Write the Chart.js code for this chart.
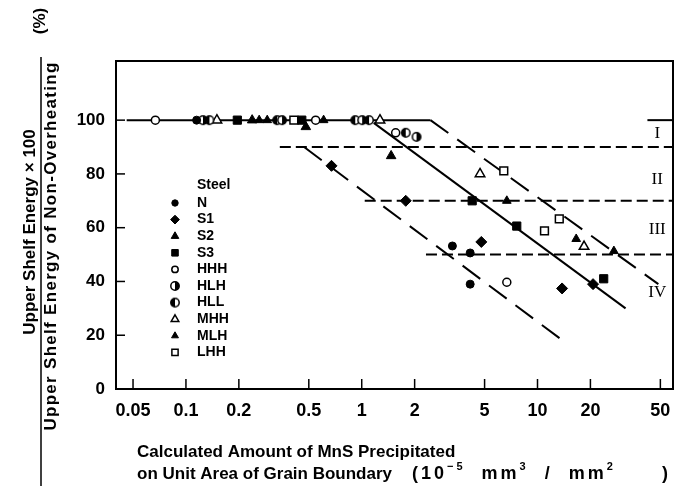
<!DOCTYPE html>
<html lang="en">
<head>
<meta charset="UTF-8">
<title>Upper Shelf Energy vs MnS Precipitated</title>
<style>
    body { margin: 0; background: #fff; }
    #wrap { width: 680px; height: 486px; }
</style>
</head>
<body>
<div id="wrap"><canvas id="chart" width="680" height="486"></canvas></div>

<script src="https://cdn.jsdelivr.net/npm/chart.js@4/dist/chart.umd.min.js"></script>
<script>
// axis ticks
const xTicks = [0.05, 0.1, 0.2, 0.5, 1, 2, 5, 10, 20, 50];
const yTicks = [0, 20, 40, 60, 80, 100];

const nX   = [0.115, 3.28, 4.14, 4.14];
const nY   = [100, 53.2, 50.6, 39];
const s1X  = [0.673, 1.78, 4.79, 13.8, 20.7];
const s1Y  = [83, 70, 54.7, 37.4, 39];
const s2X  = [0.238, 0.481, 1.47];
const s2Y  = [100, 97.5, 86.7];
const s3X  = [0.196, 0.456, 4.25, 7.62, 23.8];
const s3Y  = [100, 100, 70, 60.6, 41];
const hhhX = [0.067, 0.547, 1.56, 6.69];
const hhhY = [100, 100, 95.3, 39.7];
const hlhX = [0.125, 0.352, 1.006, 2.05];
const hlhY = [100, 100, 100, 93.8];
const hllX = [0.136, 0.330, 0.918, 1.10, 1.78];
const hllY = [100, 100, 100, 100, 95.3];
const mhhX = [0.150, 1.27, 4.71, 18.4];
const mhhY = [100, 100, 80, 53];
const mlhX = [0.261, 0.290, 0.607, 6.69, 16.6, 27.2];
const mlhY = [100, 100, 100, 70, 55.8, 51.3];
const lhhX = [0.411, 6.43, 10.96, 13.3];
const lhhY = [100, 81.1, 58.8, 63.3];

// guide lines
const topSolidX = [0.046, 2.46],  topSolidY = [100, 100];
const upperDashX = [2.46, 48.7],  upperDashY = [100, 39];
const midSolidX = [1.17, 31.7],   midSolidY = [99, 30];
const lowerDashX = [0.47, 14.8],  lowerDashY = [90, 16.7];
const level90X = [0.342, 59],     level90Y = [90, 90];
const level70X = [1.04, 59],      level70Y = [70, 70];
const level50X = [2.32, 59],      level50Y = [50, 50];
const rightTopX = [42.2, 59],     rightTopY = [100, 100];

// region labels
const regionLabels = ['I', 'II', 'III', 'IV'];
const regionY = [95, 78, 59.5, 36];
const regionX = 48;

const FONT = "'Liberation Sans', Arial, sans-serif";

function pts(xs, ys) {
    return xs.map((x, i) => ({ x: x, y: ys[i] }));
}

// half filled circle marker
function halfCircle(side) {
    const c = document.createElement('canvas');
    c.width = 12; c.height = 12;
    const g = c.getContext('2d');
    g.beginPath(); g.arc(6, 6, 4.2, 0, 2 * Math.PI); g.fillStyle = '#fff'; g.fill();
    g.beginPath();
    if (side === 'right') g.arc(6, 6, 4.2, -Math.PI / 2, Math.PI / 2);
    else g.arc(6, 6, 4.2, Math.PI / 2, 3 * Math.PI / 2);
    g.closePath(); g.fillStyle = '#000'; g.fill();
    g.beginPath(); g.arc(6, 6, 4.2, 0, 2 * Math.PI); g.lineWidth = 1.5; g.strokeStyle = '#000'; g.stroke();
    return c;
}

function steelSet(name, xs, ys, style, radius, filled) {
    return {
        label: name, data: pts(xs, ys), showLine: false, order: 0,
        pointStyle: style, pointRadius: radius, pointHoverRadius: radius,
        backgroundColor: filled ? '#000' : '#fff', borderColor: '#000',
        pointBorderWidth: filled ? 1 : 1.5
    };
}

function guideSet(xs, ys, dash) {
    return {
        label: '', data: pts(xs, ys), showLine: true, order: 10,
        borderColor: '#000', borderWidth: 2, borderDash: dash || [],
        pointRadius: 0, pointHoverRadius: 0, fill: false, tension: 0
    };
}

const steelSets = [
    steelSet('N',   nX,   nY,   'circle',   4,   true),
    steelSet('S1',  s1X,  s1Y,  'rectRot',  5.5, true),
    steelSet('S2',  s2X,  s2Y,  'triangle', 5.5, true),
    steelSet('S3',  s3X,  s3Y,  'rect',     5.8, true),
    steelSet('HHH', hhhX, hhhY, 'circle',   4,   false),
    steelSet('HLH', hlhX, hlhY, halfCircle('right'), 4, true),
    steelSet('HLL', hllX, hllY, halfCircle('left'),  4, true),
    steelSet('MHH', mhhX, mhhY, 'triangle', 5.5, false),
    steelSet('MLH', mlhX, mlhY, 'triangle', 5,   true),
    steelSet('LHH', lhhX, lhhY, 'rect',     5.5, false)
];

const guideSets = [
    guideSet(topSolidX, topSolidY),
    guideSet(upperDashX, upperDashY, [22, 11]),
    guideSet(midSolidX, midSolidY),
    guideSet(lowerDashX, lowerDashY, [22, 11]),
    guideSet(level90X, level90Y, [11, 5]),
    guideSet(level70X, level70Y, [11, 5]),
    guideSet(level50X, level50Y, [11, 5]),
    guideSet(rightTopX, rightTopY)
];

function line(ctx, x1, y1, x2, y2) {
    ctx.beginPath(); ctx.moveTo(x1, y1); ctx.lineTo(x2, y2); ctx.stroke();
}

// text with raised runs: [text, superscript?]
function richText(ctx, runs, x, y, size) {
    runs.forEach(r => {
        ctx.font = 'bold ' + (r[1] ? Math.round(size * 0.62) : size) + 'px ' + FONT;
        ctx.fillText(r[0], x, r[1] ? y - size * 0.38 : y);
        x += ctx.measureText(r[0]).width;
    });
}

function vText(ctx, text, x, y, font, spacing) {
    ctx.save();
    ctx.translate(x, y);
    ctx.rotate(-Math.PI / 2);
    ctx.font = font;
    ctx.letterSpacing = spacing || '0px';
    ctx.fillText(text, 0, 0);
    ctx.restore();
}

const decor = {
    id: 'decor',
    afterDraw(chart) {
        const ctx = chart.ctx, ca = chart.chartArea;
        const xs = chart.scales.x, ys = chart.scales.y;
        ctx.save();
        ctx.strokeStyle = '#000';
        ctx.fillStyle = '#000';

        // frame
        ctx.lineWidth = 2;
        ctx.strokeRect(ca.left, ca.top, ca.right - ca.left, ca.bottom - ca.top);

        // inward ticks
        ctx.lineWidth = 1.5;
        xTicks.forEach(v => {
            const x = xs.getPixelForValue(v);
            line(ctx, x, ca.bottom, x, ca.bottom - 10);
        });
        yTicks.forEach(v => {
            const y = ys.getPixelForValue(v);
            line(ctx, ca.left, y, ca.left + 9, y);
        });

        // region numerals
        ctx.font = "17px 'Liberation Serif', 'Times New Roman', serif";
        ctx.textAlign = 'center';
        ctx.textBaseline = 'middle';
        regionLabels.forEach((t, i) => {
            ctx.fillText(t, xs.getPixelForValue(regionX), ys.getPixelForValue(regionY[i]));
        });

        // legend
        ctx.textAlign = 'left';
        ctx.font = 'bold 14px ' + FONT;
        ctx.fillText('Steel', 197, 185);
        steelSets.forEach((ds, i) => {
            const y = 203 + i * 16.6;
            ctx.fillStyle = '#000';
            ctx.fillText(ds.label, 197, y);
            ctx.fillStyle = ds.backgroundColor;
            ctx.strokeStyle = '#000';
            ctx.lineWidth = ds.pointBorderWidth;
            if (Chart.helpers && Chart.helpers.drawPoint) {
                Chart.helpers.drawPoint(ctx, {
                    pointStyle: ds.pointStyle, rotation: 0,
                    radius: typeof ds.pointStyle === 'string' ? ds.pointRadius * 0.8 : ds.pointRadius,
                    borderWidth: ds.pointBorderWidth
                }, 175, y);
            }
        });
        ctx.fillStyle = '#000';

        // x axis title
        ctx.textBaseline = 'middle';
        ctx.font = 'bold 17px ' + FONT;
        ctx.fillText('Calculated Amount of MnS Precipitated', 137, 452);
        ctx.fillText('on Unit Area of Grain Boundary', 137, 474);
        ctx.letterSpacing = '3px';
        richText(ctx, [['(10', false], ['\u22125', true], ['  mm', false], ['3', true],
            ['  /  mm', false], ['2', true]], 412, 474, 18);
        ctx.font = 'bold 18px ' + FONT;
        ctx.fillText(')', 662, 474);
        ctx.letterSpacing = '0px';

        // y axis title as a fraction
        ctx.textAlign = 'center';
        vText(ctx, 'Upper Shelf Energy \u00d7 100', 30, 232, 'bold 17px ' + FONT);
        vText(ctx, 'Upper Shelf Energy of Non-Overheating', 51, 246, 'bold 17px ' + FONT, '1.3px');
        vText(ctx, '(%)', 40, 21, 'bold 17px ' + FONT);
        ctx.lineWidth = 1.5;
        line(ctx, 41, 57, 41, 486);

        ctx.restore();
    }
};

new Chart(document.getElementById('chart').getContext('2d'), {
    type: 'scatter',
    data: { datasets: steelSets.concat(guideSets) },
    options: {
        responsive: false,
        animation: false,
        devicePixelRatio: 1,
        layout: { padding: { left: 62, right: 2, top: 61, bottom: 57 } },
        plugins: { legend: { display: false }, tooltip: { enabled: false } },
        scales: {
            x: {
                type: 'logarithmic', min: 0.04, max: 59,
                grid: { display: false }, border: { display: false },
                afterBuildTicks: s => { s.ticks = xTicks.map(v => ({ value: v })); },
                afterFit: s => { s.height = 40; s.paddingLeft = 0; s.paddingRight = 0; },
                ticks: {
                    color: '#000', padding: 3, maxRotation: 0, autoSkip: false,
                    font: { family: FONT, size: 18, weight: 'bold' },
                    callback: v => String(v)
                }
            },
            y: {
                min: 0, max: 122,
                grid: { display: false }, border: { display: false },
                afterBuildTicks: s => { s.ticks = yTicks.map(v => ({ value: v })); },
                afterFit: s => { s.width = 54; s.paddingTop = 0; s.paddingBottom = 0; },
                ticks: {
                    color: '#000', padding: 3,
                    font: { family: FONT, size: 17, weight: 'bold' }
                }
            }
        }
    },
    plugins: [decor]
});
</script>
</body>
</html>
